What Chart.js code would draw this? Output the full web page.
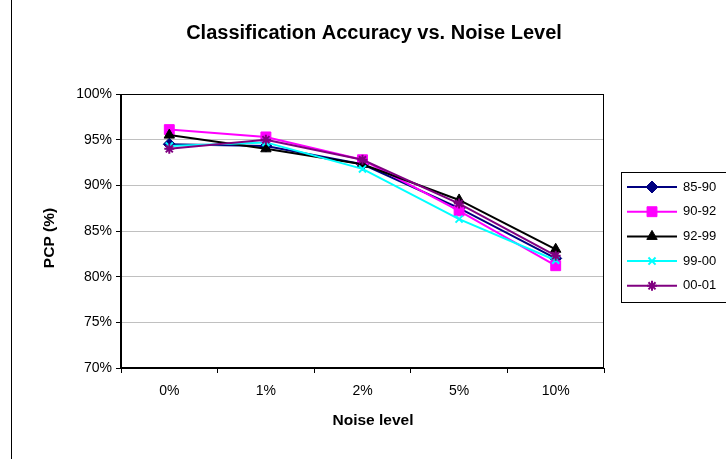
<!DOCTYPE html>
<html>
<head>
<meta charset="utf-8">
<script src="https://cdn.jsdelivr.net/npm/chart.js@4.4.1/dist/chart.umd.min.js"></script>
<style>
  html, body { margin: 0; padding: 0; background: #fff; }
  #wrap { width: 726px; height: 459px; position: relative; }
</style>
</head>
<body>
<div id="wrap"><canvas id="myChart" width="726" height="459"></canvas></div>
<script>
// data
var noiseLevels = ["0%", "1%", "2%", "5%", "10%"];
var seriesNames = ["85-90", "90-92", "92-99", "99-00", "00-01"];
var pcp8590 = [94.5, 94.3, 92.3, 87.5, 82.0];
var pcp9092 = [96.1, 95.3, 92.8, 87.2, 81.2];
var pcp9299 = [95.5, 94.0, 92.3, 88.4, 83.0];
var pcp9900 = [94.3, 94.7, 91.8, 86.3, 81.8];
var pcp0001 = [94.0, 95.0, 92.8, 88.0, 82.3];
var chartTitle = "Classification Accuracy vs. Noise Level";
var xTitle = "Noise level";
var yTitle = "PCP (%)";

var colors = ["#000080", "#ff00ff", "#000000", "#00ffff", "#800080"];
var markers = ["rectRot", "rect", "triangle", "crossRot", "star"];
var markerSize = [6, 7, 6, 5, 5];
var values = [pcp8590, pcp9092, pcp9299, pcp9900, pcp0001];

var FONT = "'Liberation Sans', Arial, sans-serif";

var datasets = seriesNames.map(function (name, i) {
  var isCross = markers[i] == "crossRot" || markers[i] == "star";
  return {
    label: name,
    data: values[i],
    borderColor: colors[i],
    backgroundColor: colors[i],
    borderWidth: 2,
    pointStyle: markers[i],
    pointRadius: markerSize[i],
    pointBorderWidth: isCross ? 2 : 1,
    pointBackgroundColor: colors[i],
    pointBorderColor: colors[i],
    tension: 0,
    order: 10 - i
  };
});

// plot frame, titles, outer border and legend box
var decor = {
  id: "decor",
  beforeDatasetsDraw: function (chart) {
    var a = chart.chartArea, ctx = chart.ctx;
    ctx.save();
    ctx.strokeStyle = "#000";
    ctx.lineWidth = 1;
    ctx.strokeRect(a.left + 0.5, a.top + 0.5, a.right - a.left - 1, a.bottom - a.top - 1);
    ctx.lineWidth = 2;
    ctx.beginPath();
    ctx.moveTo(a.left, a.top);
    ctx.lineTo(a.left, a.bottom);
    ctx.lineTo(a.right, a.bottom);
    ctx.stroke();
    ctx.restore();
  },
  afterDraw: function (chart) {
    var ctx = chart.ctx;
    ctx.save();
    ctx.fillStyle = "#000";
    ctx.textAlign = "center";
    ctx.textBaseline = "middle";
    // title
    ctx.font = "bold 20px " + FONT;
    ctx.fillText(chartTitle, 374, 33);
    // axis titles
    ctx.font = "bold 15.5px " + FONT;
    ctx.fillText(xTitle, 373, 421);
    ctx.save();
    ctx.translate(50, 238);
    ctx.rotate(-Math.PI / 2);
    ctx.fillText(yTitle, 0, 0);
    ctx.restore();
    // outer chart border
    ctx.strokeStyle = "#000";
    ctx.lineWidth = 1;
    ctx.beginPath();
    ctx.moveTo(11.5, 0);
    ctx.lineTo(11.5, 459);
    ctx.stroke();
    // legend
    var bx = 621, by = 172, bw = 110, bh = 130;
    ctx.strokeRect(bx + 0.5, by + 0.5, bw, bh);
    ctx.font = "13px " + FONT;
    ctx.textAlign = "left";
    chart.data.datasets.forEach(function (ds, i) {
      var y = by + 15 + i * 24.7;
      ctx.strokeStyle = ds.borderColor;
      ctx.lineWidth = 2;
      ctx.beginPath();
      ctx.moveTo(bx + 6, y);
      ctx.lineTo(bx + 56, y);
      ctx.stroke();
      ctx.fillStyle = ds.borderColor;
      ctx.lineWidth = ds.pointBorderWidth;
      Chart.helpers.drawPoint(ctx, {
        pointStyle: ds.pointStyle,
        radius: ds.pointRadius,
        borderWidth: ds.pointBorderWidth,
        rotation: 0
      }, bx + 31, y);
      ctx.fillStyle = "#000";
      ctx.fillText(ds.label, bx + 62, y);
    });
    ctx.restore();
  }
};

var ctx = document.getElementById("myChart").getContext("2d");
var myChart = new Chart(ctx, {
  type: "line",
  data: {
    labels: noiseLevels,
    datasets: datasets
  },
  plugins: [decor],
  options: {
    responsive: false,
    animation: false,
    layout: { padding: { left: 37, right: 122, top: 94, bottom: 25 } },
    plugins: {
      legend: { display: false },
      tooltip: { enabled: false },
      title: { display: false }
    },
    scales: {
      x: {
        offset: true,
        afterFit: function (s) { s.height = 66; },
        grid: {
          offset: true,
          drawOnChartArea: false,
          drawTicks: true,
          tickLength: 5,
          tickColor: "#000",
          color: "#000"
        },
        border: { display: false },
        ticks: {
          color: "#000",
          padding: 10,
          font: { family: FONT, size: 14 }
        }
      },
      y: {
        min: 70,
        max: 100,
        afterFit: function (s) { s.width = 84; },
        grid: {
          color: "#c0c0c0",
          drawTicks: true,
          tickLength: 5,
          tickColor: "#000"
        },
        border: { display: false },
        ticks: {
          stepSize: 5,
          color: "#000",
          padding: 4,
          font: { family: FONT, size: 14 },
          callback: function (v) { return v + "%"; }
        }
      }
    }
  }
});
</script>
</body>
</html>
